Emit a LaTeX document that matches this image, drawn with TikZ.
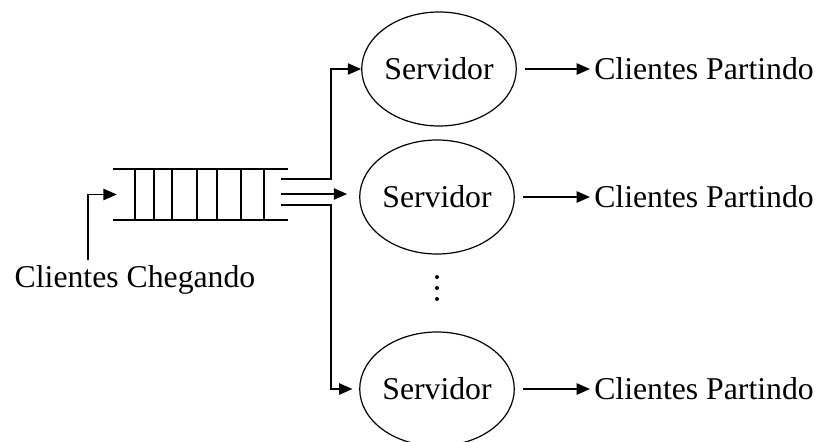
\documentclass[tikz,border=0pt]{standalone}
\usepackage{fontspec}
\setmainfont{Liberation Serif}
\usetikzlibrary{arrows.meta,shapes.geometric}

\begin{document}
\begin{tikzpicture}[x=0.75pt, y=-0.75pt,
        seta/.style={line width=1.2pt, -{Triangle[length=10pt,width=8.5pt]}},
        rotulo/.style={inner sep=0pt, font=\fontsize{23.8}{28}\selectfont},
        servidor/.style={rotulo, ellipse, draw, line width=0.9pt,
            minimum width=105pt, minimum height=85.5pt}]
    \useasboundingbox (0,0) rectangle (820,442);

    % fila de espera
    \node [minimum width=131.25pt, minimum height=38.25pt, inner sep=0pt] (fila) at (200.5,194.5) {};
    \draw [line width=1.2pt] (fila.north west) -- (fila.north east);
    \draw [line width=1.2pt] (fila.south west) -- (fila.south east);
    \foreach \x in {135,154,172,197,217,241,264}
        \draw [line width=1.2pt] (\x,169) -- (\x,220);

    % servidores
    \node [servidor] (s1) at (439,69) {Servidor};
    \node [servidor] (s2) at (437,197) {Servidor};
    \node [servidor] (s3) at (437,389) {Servidor};
    \foreach \y in {277,288,299}
        \fill (437,\y) circle (1.5pt);

    \node [rotulo, anchor=west, inner sep=3pt] (p1) at (590,69) {Clientes Partindo};
    \node [rotulo, anchor=west, inner sep=3pt] (p2) at (590,197) {Clientes Partindo};
    \node [rotulo, anchor=west, inner sep=3pt] (p3) at (590,389) {Clientes Partindo};
    \node [rotulo, anchor=base] (chegando) at (135,287) {Clientes Chegando};

    \coordinate (entrada) at (88,260);
    \coordinate (saida1) at (281,179);
    \coordinate (saida2) at (281,194);
    \coordinate (saida3) at (281,205);

    \draw [seta] (entrada) |- ([xshift=3pt]fila.west);
    \draw [seta] (saida1) -- ++(50,0) |- (s1.west);
    \draw [seta, shorten >=9pt] (saida2) -- (saida2 -| s2.west);
    \draw [seta, shorten >=5pt] (saida3) -- ++(50,0) |- (s3.west);

    \foreach \i in {1,2,3}
        \draw [seta, shorten <=6pt] (s\i.east) -- (p\i.west);
\end{tikzpicture}
\end{document}
